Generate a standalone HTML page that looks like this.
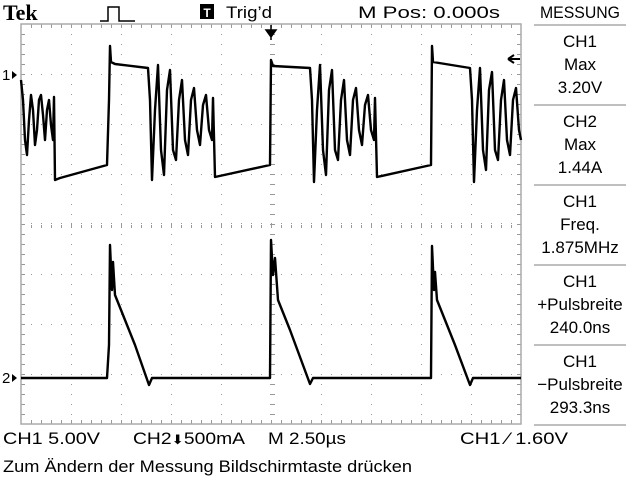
<!DOCTYPE html>
<html><head><meta charset="utf-8"><style>
html,body{margin:0;padding:0;background:#fff;}
svg{display:block;font-family:"Liberation Sans",sans-serif;}
</style></head><body>
<svg id="scope" width="640" height="480" viewBox="0 0 640 480" xmlns="http://www.w3.org/2000/svg">
<rect width="640" height="480" fill="#fff"/>
<g id="grat"></g>
<g id="traces"></g>
<text x="3" y="20" font-family="Liberation Serif,serif" font-weight="bold" font-size="22">Tek</text>
<path d="M100 21 H108 V7 H119 V21 H135" fill="none" stroke="#000" stroke-width="1.5"/>
<rect x="200" y="4" width="14" height="15" fill="#000"/>
<text x="207" y="17" font-size="12" font-weight="bold" fill="#fff" text-anchor="middle">T</text>
<text x="226" y="18" font-size="17" textLength="46" lengthAdjust="spacingAndGlyphs">Trig’d</text>
<text x="358" y="18" font-size="17" textLength="142" lengthAdjust="spacingAndGlyphs">M Pos: 0.000s</text>
<text x="540" y="18" font-size="17" textLength="80" lengthAdjust="spacingAndGlyphs">MESSUNG</text>
<g id="panel" font-size="17" text-anchor="middle"></g>
<path d="M266 30 H276 L271 37 Z M271 25 V40" stroke="#000" stroke-width="1.5" fill="#000"/>
<path d="M508 59 H520 M508 59 L514 55 M508 59 L514 63" stroke="#000" stroke-width="2" fill="none"/>
<text x="2" y="80" font-size="15">1</text>
<path d="M12 71 L17 75 L12 79 Z" fill="#000"/>
<text x="2" y="383" font-size="15">2</text>
<path d="M12 374 L17 378 L12 382 Z" fill="#000"/>
<text x="3" y="444" font-size="17" textLength="97" lengthAdjust="spacingAndGlyphs">CH1  5.00V</text>
<text x="133" y="444" font-size="17" textLength="112" lengthAdjust="spacingAndGlyphs">CH2<tspan font-size="13">⬇</tspan>500mA</text>
<text x="268" y="444" font-size="17" textLength="78" lengthAdjust="spacingAndGlyphs">M 2.50µs</text>
<text x="460" y="444" font-size="17" textLength="108" lengthAdjust="spacingAndGlyphs">CH1 ⁄ 1.60V</text>
<text x="3" y="472" font-size="17" textLength="409" lengthAdjust="spacingAndGlyphs">Zum Ändern der Messung Bildschirmtaste drücken</text>
</svg>
<script>
// CH1 trace: time (µs), voltage (V)
const ch1T=[0,0.1,0.2,0.3,0.4,0.5,0.6,0.7,0.8,0.9,1.0,1.1,1.2,1.3,1.4,1.5,1.6,1.65,1.7,1.95,4.3,4.4,4.45,4.5,4.7,6.35,6.45,6.55,6.7,6.85,7.0,7.15,7.3,7.45,7.6,7.75,7.9,8.05,8.2,8.35,8.5,8.65,8.8,8.95,9.1,9.25,9.4,9.55,9.6,9.7,12.45,12.5,12.6,14.45,14.55,14.65,14.8,14.95,15.1,15.25,15.4,15.55,15.7,15.85,16.0,16.15,16.3,16.45,16.6,16.75,16.9,17.05,17.2,17.35,17.5,17.65,17.7,17.8,20.5,20.55,20.6,22.45,22.55,22.65,22.8,22.95,23.1,23.25,23.4,23.55,23.7,23.85,24.0,24.15,24.3,24.45,24.6,24.75,24.9,25.0];
const ch1V=[-0.5,-2.5,-6.5,-8.0,-4.5,-2.0,-3.5,-7.0,-5.5,-2.5,-2.0,-4.0,-6.5,-3.5,-2.5,-5.0,-6.5,-2.2,-10.5,-10.3,-9.0,-2.5,2.9,1.3,1.1,0.7,-2.5,-10.5,-3.5,1.0,-7.5,-10.0,-1.5,0.5,-7.5,-8.5,-2.5,-0.5,-6.5,-8.0,-2.5,-1.3,-5.5,-7.0,-3.0,-2.0,-5.5,-6.5,-2.3,-10.2,-9.0,1.5,0.9,0.7,-2.5,-10.7,-3.5,1.0,-7.5,-10.0,-1.5,0.5,-7.5,-8.5,-2.5,-0.5,-6.5,-8.0,-2.5,-1.3,-5.5,-7.0,-3.0,-2.0,-5.5,-6.5,-2.3,-10.2,-9.0,2.9,1.3,0.7,-2.5,-10.7,-3.5,0.7,-7.5,-9.5,-1.5,0.3,-7.5,-8.5,-2.5,-0.5,-6.5,-8.0,-2.5,-1.3,-5.5,-6.5];
// CH2 trace: time (µs), current (A)
const ch2T=[0,4.3,4.4,4.45,4.55,4.6,4.7,5.2,5.7,6.4,6.55,12.45,12.5,12.6,12.7,12.85,13.45,14.45,14.6,20.5,20.55,20.65,20.7,20.8,21.7,22.45,22.6,25];
const ch2A=[0,0,0.33,1.33,0.88,1.16,0.83,0.58,0.33,-0.07,0,0,1.38,1.03,1.2,0.78,0.48,-0.06,0,0,1.32,0.88,1.06,0.78,0.33,-0.07,0,0];
const measLabels=["CH1|Max|3.20V","CH2|Max|1.44A","CH1|Freq.|1.875MHz","CH1|+Pulsbreite|240.0ns","CH1|−Pulsbreite|293.3ns"];

const NS="http://www.w3.org/2000/svg";
const X0=21,Y0=24,DIV=50;
const tx=t=>X0+t/2.5*DIV;
const y1=v=>75-v/5*DIV;
const y2=a=>378-a/0.5*DIV;
function mk(tag,attrs,parent){const e=document.createElementNS(NS,tag);for(const k in attrs)e.setAttribute(k,attrs[k]);parent.appendChild(e);return e;}
const grat=document.getElementById('grat');
let d="";
for(let i=1;i<10;i++){const x=X0+i*DIV;for(let y=Y0+10;y<Y0+400;y+=10)d+=`M${x} ${y}h1v1h-1z`;}
for(let j=1;j<8;j++){const y=Y0+j*DIV;for(let x=X0+10;x<X0+500;x+=10)d+=`M${x} ${y}h1v1h-1z`;}
for(let x=X0+10;x<X0+500;x+=10){d+=`M${x} ${Y0}v4h1v-4zM${x} ${Y0+400}v-4h1v4zM${x} 223v5h1v-5z`;}
for(let y=Y0+10;y<Y0+400;y+=10){d+=`M${X0} ${y}h4v1h-4zM${X0+500} ${y}h-4v1h4zM270 ${y}h5v1h-5z`;}
const gp=mk('path',{d:d,fill:'#999'},grat);


const border=mk('rect',{x:X0,y:Y0,width:500,height:400,fill:'none',stroke:'#aaa','stroke-width':1.5},grat);



const tr=document.getElementById('traces');
const p1=mk('polyline',{points:ch1T.map((t,i)=>tx(t)+','+y1(ch1V[i])).join(' '),fill:'none',stroke:'#000','stroke-width':2.4,'stroke-linejoin':'round'},tr);


const p2=mk('polyline',{points:ch2T.map((t,i)=>tx(t)+','+y2(ch2A[i])).join(' '),fill:'none',stroke:'#000','stroke-width':2.4,'stroke-linejoin':'round'},tr);



const panel=document.getElementById('panel');
measLabels.forEach((lab,i)=>{
  const top=25+i*80;
  const ln=mk('line',{x1:534,x2:626,y1:top,y2:top,stroke:'#aaa','stroke-width':1.5},panel);
  
  
  const g=mk('g',{},panel);
  
  
  lab.split('|').forEach((s,k)=>{const t=mk('text',{x:580,y:top+22+k*23},g);t.textContent=s;
    
    });
});
const lnb=mk('line',{x1:534,x2:626,y1:425,y2:425,stroke:'#aaa','stroke-width':1.5},panel);


</script>
</body></html>
